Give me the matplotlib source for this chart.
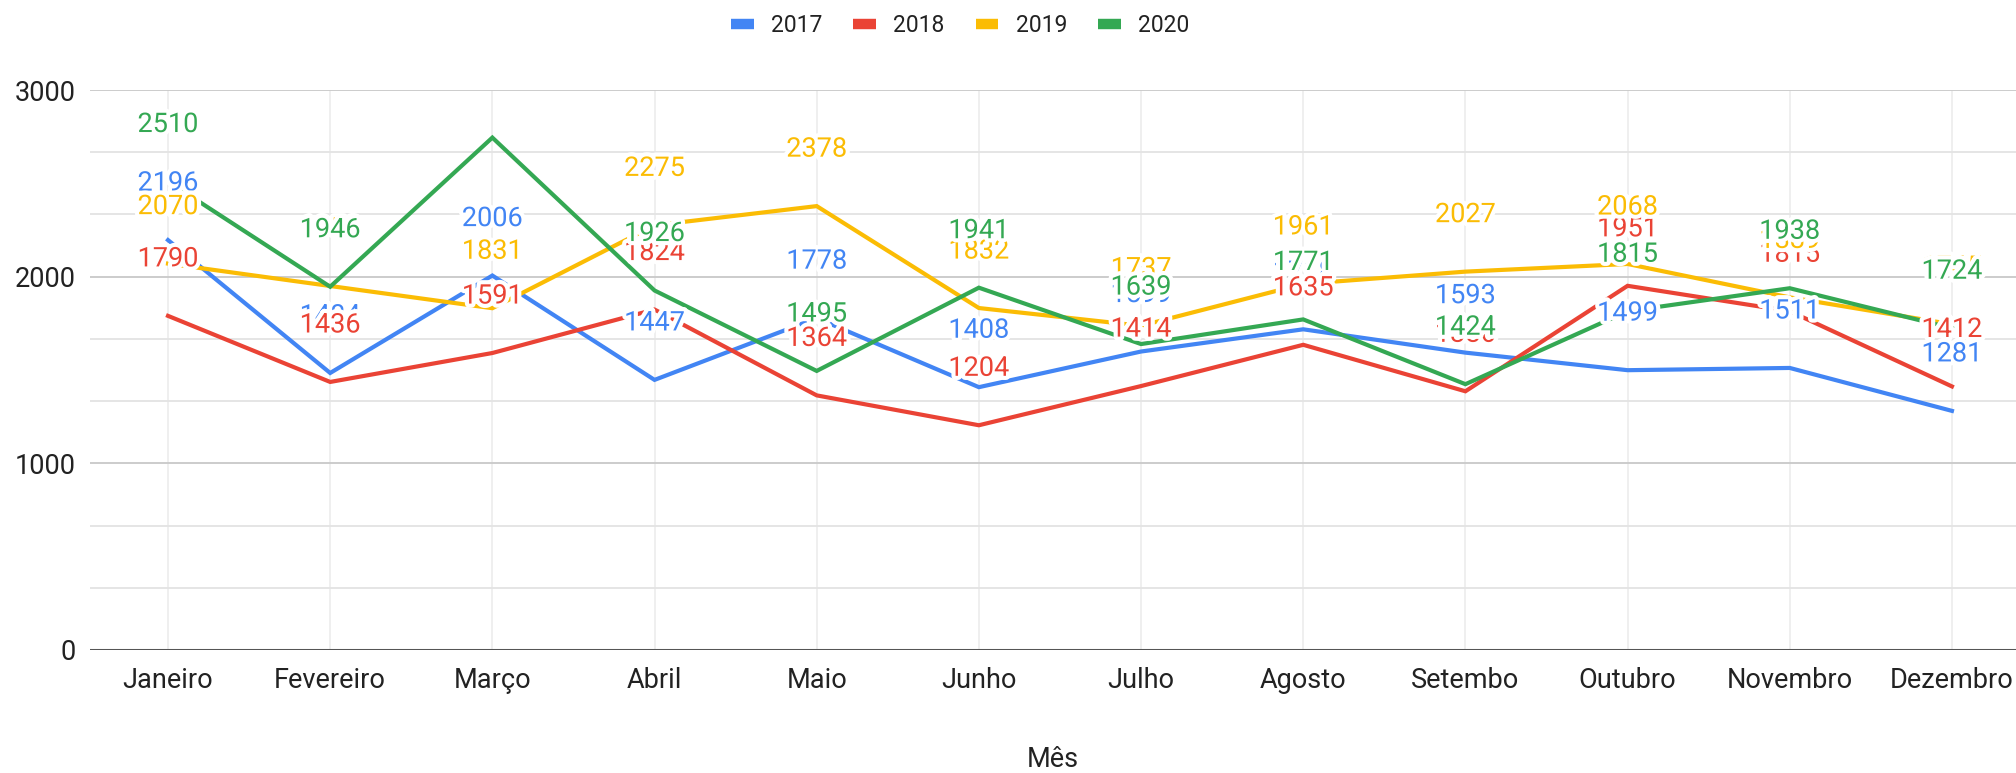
import matplotlib
matplotlib.use("Agg")
import matplotlib.pyplot as plt
import matplotlib.patheffects as pe
from matplotlib.lines import Line2D
from matplotlib.ticker import MultipleLocator

plt.rcParams["font.family"] = ["Roboto", "DejaVu Sans"]

months = ["Janeiro", "Fevereiro", "Março", "Abril", "Maio", "Junho",
          "Julho", "Agosto", "Setembo", "Outubro", "Novembro", "Dezembro"]
v2017 = [2196, 1484, 2006, 1447, 1778, 1408, 1599, 1718, 1593, 1499, 1511, 1281]
v2018 = [1790, 1436, 1591, 1824, 1364, 1204, 1414, 1635, 1386, 1951, 1815, 1412]
v2019 = [2070, 1950, 1831, 2275, 2378, 1832, 1737, 1961, 2027, 2068, 1889, 1745]
v2020 = [2510, 1946, 2745, 1926, 1495, 1941, 1639, 1771, 1424, 1815, 1938, 1724]
years = ["2017", "2018", "2019", "2020"]
colors = ["#4285F4", "#EA4335", "#FBBC04", "#34A853"]
# the reference shows no value label on this point
no_label = {("2020", "Março")}

series = [v2017, v2018, v2019, v2020]
x = list(range(len(months)))

fig = plt.figure(figsize=(20.16, 7.73), dpi=100)
ax = fig.add_axes([90 / 2016, 1 - 650 / 773, 1 - 90 / 2016, 560 / 773])

for i, (name, vals, col) in enumerate(zip(years, series, colors)):
    ax.plot(x, vals, color=col, lw=3, zorder=3 + i, clip_on=False,
            solid_joinstyle="miter")

halo = [pe.withStroke(linewidth=6, foreground="white")]
for i, (name, vals, col) in enumerate(zip(years, series, colors)):
    for xi, v in zip(x, vals):
        if (name, months[xi]) in no_label:
            continue
        ax.annotate(str(v), (xi, v), xytext=(0, 41), textcoords="offset points",
                    ha="center", va="center", fontsize=19.5, color=col,
                    zorder=10 + i, path_effects=halo, annotation_clip=False)

ax.set_xlim(-0.481, 11.395)
ax.set_ylim(0, 3000)
ax.yaxis.set_major_locator(MultipleLocator(1000))
ax.yaxis.set_minor_locator(MultipleLocator(1000 / 3))
ax.set_xticks(x)
ax.set_xticklabels(months)
ax.grid(axis="y", which="major", color="#cccccc", lw=1.4, zorder=0)
ax.grid(axis="y", which="minor", color="#e3e3e3", lw=1.3, zorder=0)
ax.grid(axis="x", which="major", color="#ececec", lw=1.2, zorder=0)
ax.axhline(0, color="#555555", lw=2.2, zorder=2)
ax.set_axisbelow(True)
for s in ax.spines.values():
    s.set_visible(False)
ax.tick_params(axis="both", which="both", length=0, labelsize=19.5,
               labelcolor="#222222")
ax.tick_params(axis="y", pad=10)
ax.tick_params(axis="x", pad=12)
ax.set_xlabel("Mês", fontsize=19.5, color="#222222", labelpad=38)

handles = [Line2D([0], [0], color=c, lw=7.5, solid_capstyle="butt") for c in colors]
fig.legend(handles, years, loc="center", bbox_to_anchor=(960 / 2016, 1 - 26 / 773),
           ncol=4, frameon=False, fontsize=16.5, handlelength=1.0,
           handletextpad=0.75, columnspacing=1.35, labelcolor="#222222")

fig.savefig("out.png", dpi=100)
plt.close(fig)
